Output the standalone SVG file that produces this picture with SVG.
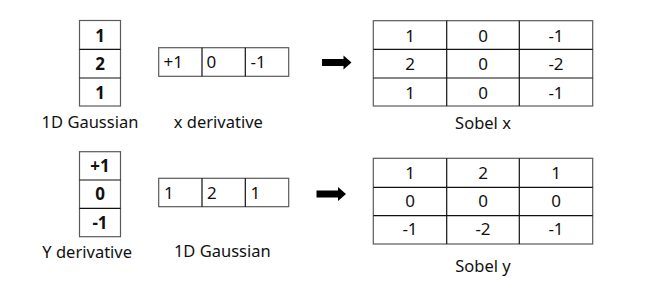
<svg xmlns="http://www.w3.org/2000/svg" width="657" height="300" viewBox="0 0 657 300">
<style>
text{font-family:"Noto Sans","Liberation Sans",sans-serif;font-size:17px;fill:#111}
.b{font-weight:bold}
.c{text-anchor:middle}
.o{fill:#fff;stroke:#5a5a5a;stroke-width:1.2}
.i{fill:none;stroke:#111;stroke-width:1.2}
.lbl{font-size:16.5px}
</style>
<defs>
<path id="arr" d="M0,-3.6 H21.5 V-7 L29.5,0 L21.5,7 V3.6 H0 Z"/>
</defs>
<rect width="657" height="300" fill="#fff"/>
<g id="gauss-v1">
<rect class="o" x="79.5" y="20.5" width="41" height="85.5"/>
<path class="i" d="M79.5,49.3 H120.5 M79.5,78 H120.5"/>
<text class="b c" x="100" y="41.5">1</text>
<text class="b c" x="100" y="70">2</text>
<text class="b c" x="100" y="98.5">1</text>
<text class="c lbl" x="90" y="127.7">1D Gaussian</text>
</g>
<g id="xderiv">
<rect class="o" x="158.7" y="47.7" width="130" height="28.6"/>
<path class="i" d="M202,47.7 V76.3 M245.3,47.7 V76.3"/>
<text x="163.5" y="68.3">+1</text>
<text x="206.5" y="68.3">0</text>
<text x="250.5" y="68.3">-1</text>
<text class="c lbl" x="218.3" y="127.7">x derivative</text>
</g>
<g id="sobelx">
<rect class="o" x="373.3" y="20.7" width="219.4" height="85.3"/>
<path class="i" d="M446.7,20.7 V106 M519.3,20.7 V106 M373.3,49.3 H592.7 M373.3,78 H592.7"/>
<text class="c" x="410" y="41.7">1</text><text class="c" x="483" y="41.7">0</text><text class="c" x="556" y="41.7">-1</text>
<text class="c" x="410" y="70">2</text><text class="c" x="483" y="70">0</text><text class="c" x="556" y="70">-2</text>
<text class="c" x="410" y="98.5">1</text><text class="c" x="483" y="98.5">0</text><text class="c" x="556" y="98.5">-1</text>
<text class="c lbl" x="483" y="129.3">Sobel x</text>
</g>
<g id="yderiv">
<rect class="o" x="79.5" y="151.7" width="41" height="85"/>
<path class="i" d="M79.5,180 H120.5 M79.5,208.3 H120.5"/>
<text class="b c" x="100" y="172.3">+1</text>
<text class="b c" x="100" y="200.3">0</text>
<text class="b c" x="100" y="229">-1</text>
<text class="c lbl" x="87.2" y="258.3">Y derivative</text>
</g>
<g id="gauss-h">
<rect class="o" x="158.7" y="178.3" width="130" height="28.4"/>
<path class="i" d="M202,178.3 V206.7 M245.3,178.3 V206.7"/>
<text x="164" y="198.5">1</text>
<text x="207" y="198.5">2</text>
<text x="250.5" y="198.5">1</text>
<text class="c lbl" x="222.3" y="257.3">1D Gaussian</text>
</g>
<g id="sobely">
<rect class="o" x="373.3" y="158.3" width="219.4" height="85.7"/>
<path class="i" d="M446.7,158.3 V244 M519.3,158.3 V244 M373.3,187.3 H592.7 M373.3,215.7 H592.7"/>
<text class="c" x="410" y="178.5">1</text><text class="c" x="483" y="178.5">2</text><text class="c" x="556" y="178.5">1</text>
<text class="c" x="410" y="207">0</text><text class="c" x="483" y="207">0</text><text class="c" x="556" y="207">0</text>
<text class="c" x="410" y="235.3">-1</text><text class="c" x="483" y="235.3">-2</text><text class="c" x="556" y="235.3">-1</text>
<text class="c lbl" x="483" y="271.7">Sobel y</text>
</g>
<g id="connectors" fill="#000">
<use href="#arr" x="322" y="62.5"/>
<use href="#arr" x="316.5" y="194"/>
</g>
</svg>
